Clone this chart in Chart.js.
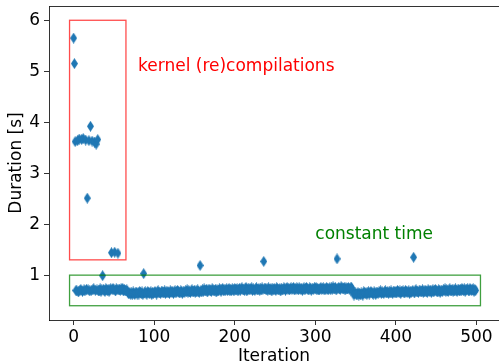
<!DOCTYPE html>
<html>
<head>
<meta charset="utf-8">
<script src="https://cdn.jsdelivr.net/npm/chart.js@4.4.0/dist/chart.umd.min.js"></script>
<style>
  html, body { margin: 0; padding: 0; background: #fff; overflow: hidden; }
</style>
</head>
<body>
<canvas id="mycanvas" width="499" height="364"></canvas>
<script>
// duration of each iteration in seconds (iteration = index)
var durations = [
	5.65, 5.15, 3.62, 0.70, 0.69, 3.64, 0.67, 3.67, 0.70, 0.72, 3.66, 0.68, 3.68, 0.71, 0.69, 3.65, 0.72, 2.51, 0.71, 3.64,
	0.69, 3.92, 0.70, 3.63, 0.71, 0.73, 3.61, 0.70, 3.57, 0.71, 3.66, 0.69, 0.70, 0.73, 0.68, 0.71, 0.99, 0.72, 0.70, 0.68,
	0.73, 0.71, 0.70, 0.72, 0.68, 0.71, 0.73, 1.44, 0.72, 0.74, 0.71, 1.45, 0.69, 0.73, 0.72, 1.43, 0.71, 0.72, 0.70, 0.73,
	0.71, 0.74, 0.69, 0.72, 0.70, 0.69, 0.71, 0.68, 0.64, 0.64, 0.66, 0.62, 0.65, 0.63, 0.67, 0.64, 0.62, 0.65, 0.66, 0.63,
	0.66, 0.63, 0.68, 0.65, 0.64, 0.67, 0.62, 1.03, 0.65, 0.67, 0.64, 0.63, 0.68, 0.66, 0.64, 0.65, 0.67, 0.62, 0.66, 0.64,
	0.65, 0.68, 0.66, 0.63, 0.67, 0.69, 0.65, 0.66, 0.64, 0.67, 0.68, 0.65, 0.66, 0.69, 0.64, 0.67, 0.65, 0.68, 0.66, 0.64,
	0.69, 0.67, 0.66, 0.68, 0.64, 0.67, 0.69, 0.65, 0.68, 0.70, 0.67, 0.66, 0.65, 0.69, 0.68, 0.64, 0.67, 0.68, 0.66, 0.69,
	0.68, 0.71, 0.66, 0.69, 0.67, 0.66, 0.69, 0.71, 0.67, 0.68, 0.70, 0.66, 0.69, 0.67, 0.71, 0.68, 0.66, 1.19, 0.70, 0.67,
	0.71, 0.68, 0.73, 0.70, 0.69, 0.72, 0.67, 0.71, 0.70, 0.72, 0.69, 0.68, 0.73, 0.71, 0.69, 0.70, 0.72, 0.67, 0.71, 0.69,
	0.70, 0.73, 0.71, 0.68, 0.72, 0.74, 0.70, 0.71, 0.69, 0.72, 0.73, 0.70, 0.71, 0.74, 0.69, 0.72, 0.70, 0.73, 0.71, 0.69,
	0.74, 0.72, 0.71, 0.73, 0.69, 0.72, 0.74, 0.70, 0.73, 0.75, 0.72, 0.71, 0.70, 0.74, 0.76, 0.69, 0.72, 0.73, 0.71, 0.74,
	0.72, 0.75, 0.70, 0.73, 0.71, 0.70, 0.73, 0.75, 0.71, 0.72, 0.74, 0.70, 0.73, 0.71, 0.75, 0.72, 1.27, 0.73, 0.74, 0.71,
	0.73, 0.70, 0.75, 0.72, 0.71, 0.74, 0.69, 0.73, 0.72, 0.74, 0.71, 0.70, 0.75, 0.73, 0.71, 0.72, 0.74, 0.69, 0.73, 0.71,
	0.72, 0.75, 0.73, 0.70, 0.74, 0.76, 0.72, 0.73, 0.71, 0.74, 0.75, 0.72, 0.73, 0.76, 0.71, 0.74, 0.72, 0.75, 0.73, 0.71,
	0.75, 0.73, 0.72, 0.74, 0.70, 0.73, 0.75, 0.71, 0.74, 0.76, 0.73, 0.72, 0.71, 0.75, 0.74, 0.70, 0.73, 0.74, 0.72, 0.75,
	0.73, 0.76, 0.71, 0.74, 0.72, 0.71, 0.74, 0.76, 0.72, 0.73, 0.75, 0.71, 0.74, 0.72, 0.76, 0.73, 0.71, 0.74, 0.75, 0.72,
	0.75, 0.72, 0.77, 0.74, 0.73, 0.76, 0.71, 1.32, 0.74, 0.76, 0.73, 0.72, 0.77, 0.75, 0.73, 0.74, 0.76, 0.71, 0.75, 0.73,
	0.73, 0.76, 0.74, 0.71, 0.75, 0.76, 0.71, 0.66, 0.61, 0.64, 0.65, 0.62, 0.63, 0.66, 0.61, 0.64, 0.62, 0.65, 0.63, 0.61,
	0.67, 0.65, 0.64, 0.66, 0.62, 0.65, 0.67, 0.63, 0.66, 0.68, 0.65, 0.64, 0.63, 0.67, 0.66, 0.62, 0.65, 0.66, 0.64, 0.67,
	0.66, 0.69, 0.64, 0.67, 0.65, 0.64, 0.67, 0.69, 0.65, 0.66, 0.68, 0.64, 0.67, 0.65, 0.69, 0.66, 0.64, 0.67, 0.68, 0.65,
	0.68, 0.65, 0.70, 0.67, 0.66, 0.69, 0.64, 0.68, 0.67, 0.69, 0.66, 0.65, 0.70, 0.68, 0.66, 0.67, 0.69, 0.64, 0.68, 0.66,
	0.67, 0.70, 1.35, 0.65, 0.69, 0.71, 0.67, 0.68, 0.66, 0.69, 0.70, 0.67, 0.68, 0.71, 0.66, 0.69, 0.67, 0.70, 0.68, 0.66,
	0.71, 0.69, 0.68, 0.70, 0.66, 0.69, 0.71, 0.67, 0.70, 0.72, 0.69, 0.68, 0.67, 0.71, 0.70, 0.66, 0.69, 0.70, 0.68, 0.71,
	0.70, 0.73, 0.68, 0.71, 0.69, 0.68, 0.71, 0.73, 0.69, 0.70, 0.72, 0.68, 0.71, 0.69, 0.73, 0.70, 0.68, 0.71, 0.72, 0.69,
	0.72, 0.69, 0.74, 0.71, 0.70, 0.73, 0.68, 0.72, 0.71, 0.73, 0.70, 0.69, 0.74, 0.72, 0.70, 0.71, 0.73, 0.68, 0.72, 0.70
];
var iterations = durations.map(function(d, i) { return i; });

var xTicks = [0, 100, 200, 300, 400, 500];
var yTicks = [1, 2, 3, 4, 5, 6];

// highlight boxes: [x0, x1, y0, y1]
var recompBox = [-5, 65, 1.3, 6.0];
var steadyBox = [-5, 505, 0.4, 1.0];

// notes: text and [x, y] anchor (left, baseline)
var noteText = ['kernel (re)compilations', 'constant time'];
var noteAt = [[80, 5.0], [300, 1.7]];

var FONT = '"DejaVu Sans", "Liberation Sans", sans-serif';
var AXIS_COLOR = 'rgba(0,0,0,0.8)';
var BLUE = '#1f77b4';

// thin diamond marker
var marker = document.createElement('canvas');
marker.width = 7;
marker.height = 11;
(function() {
	var c = marker.getContext('2d');
	c.fillStyle = BLUE;
	c.beginPath();
	c.moveTo(3.5, 0);
	c.lineTo(7, 5.5);
	c.lineTo(3.5, 11);
	c.lineTo(0, 5.5);
	c.closePath();
	c.fill();
})();

var points = [];
for (var i in durations) {
	points.push({ x: iterations[i], y: durations[i] });
}

var decorations = {
	id: 'decorations',
	afterDatasetsDraw: function(chart) {
		var ctx = chart.ctx;
		var a = chart.chartArea;
		var xs = chart.scales.x, ys = chart.scales.y;
		ctx.save();

		// top spine; the right one lies past the edge of the figure
		ctx.strokeStyle = AXIS_COLOR;
		ctx.lineWidth = 1;
		ctx.beginPath();
		ctx.moveTo(Math.round(a.left) + 0.5, Math.round(a.top) + 0.5);
		ctx.lineTo(chart.width, Math.round(a.top) + 0.5);
		ctx.stroke();

		function box(b, color) {
			var x0 = xs.getPixelForValue(b[0]), x1 = xs.getPixelForValue(b[1]);
			var y0 = ys.getPixelForValue(b[2]), y1 = ys.getPixelForValue(b[3]);
			ctx.strokeStyle = color;
			ctx.lineWidth = 1.3;
			ctx.strokeRect(x0, y1, x1 - x0, y0 - y1);
		}
		box(recompBox, 'rgba(255,0,0,0.7)');
		box(steadyBox, 'rgba(0,128,0,0.75)');

		var noteColors = ['#ff0000', '#008000'];
		ctx.font = '17px ' + FONT;
		ctx.textAlign = 'left';
		ctx.textBaseline = 'alphabetic';
		for (var k = 0; k < noteText.length; k++) {
			ctx.fillStyle = noteColors[k];
			ctx.fillText(noteText[k], xs.getPixelForValue(noteAt[k][0]), ys.getPixelForValue(noteAt[k][1]));
		}
		ctx.restore();
	}
};

var ctx = document.getElementById('mycanvas');
var chart = new Chart(ctx, {
	type: 'scatter',
	data: {
		datasets: [{
			label: 'duration',
			data: points,
			pointStyle: marker,
			pointRadius: 5,
			backgroundColor: BLUE,
			borderColor: BLUE
		}]
	},
	options: {
		responsive: false,
		animation: false,
		devicePixelRatio: 1,
		layout: { autoPadding: false, padding: { top: 6, right: 0, left: 0, bottom: 0 } },
		plugins: {
			legend: { display: false },
			tooltip: { enabled: false }
		},
		scales: {
			x: {
				type: 'linear',
				min: -30.5,
				max: 528,
				afterBuildTicks: function(axis) {
					axis.ticks = xTicks.map(function(v) { return { value: v }; });
				},
				afterFit: function(axis) {
					axis.height = 44;
					axis.paddingLeft = 0;
					axis.paddingRight = 0;
				},
				grid: { drawOnChartArea: false, tickLength: 5, color: AXIS_COLOR },
				border: { display: true, color: AXIS_COLOR, width: 1 },
				ticks: { color: '#000', padding: 2, maxRotation: 0, font: { family: FONT, size: 17 } },
				title: { display: true, text: 'Iteration', color: '#000', padding: { top: 0, bottom: -1 }, font: { family: FONT, size: 17, lineHeight: 1 } }
			},
			y: {
				type: 'linear',
				min: 0.12,
				max: 6.28,
				afterBuildTicks: function(axis) {
					axis.ticks = yTicks.map(function(v) { return { value: v }; });
				},
				afterFit: function(axis) {
					axis.width = 49;
					axis.paddingTop = 0;
					axis.paddingBottom = 0;
				},
				grid: { drawOnChartArea: false, tickLength: 5, color: AXIS_COLOR },
				border: { display: true, color: AXIS_COLOR, width: 1 },
				ticks: { color: '#000', padding: 4, font: { family: FONT, size: 17 } },
				title: { display: true, text: 'Duration [s]', color: '#000', padding: { top: 6, bottom: 0 }, font: { family: FONT, size: 17 } }
			}
		}
	},
	plugins: [decorations]
});
</script>
</body>
</html>
